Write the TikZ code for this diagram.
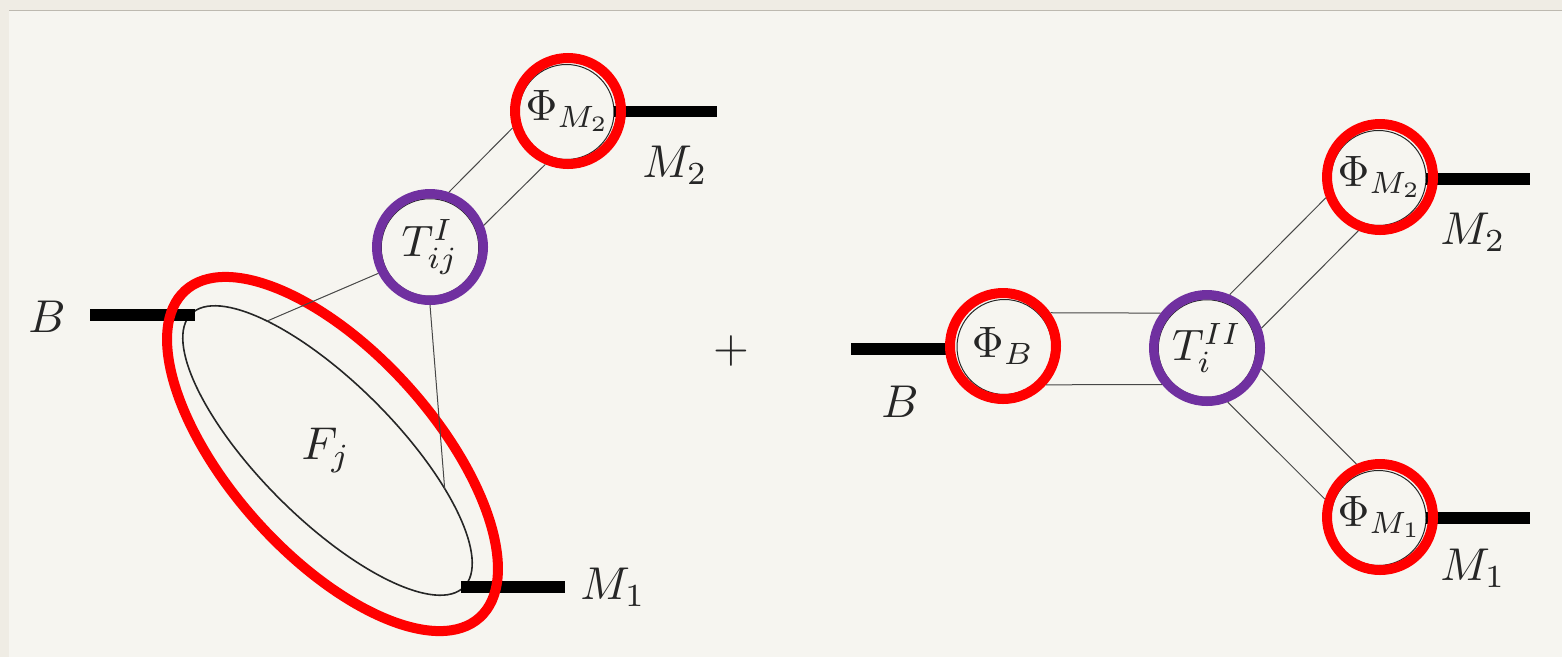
\documentclass[tikz,border=0pt]{standalone}
\usetikzlibrary{shapes.geometric}
\definecolor{bgout}{HTML}{EFECE4}
\definecolor{bgin}{HTML}{F6F5F0}
\definecolor{edgeg}{HTML}{BDB9B0}
\definecolor{ringred}{HTML}{FF0000}
\definecolor{ringpurple}{HTML}{7030A0}
\definecolor{ink}{HTML}{262626}
\newcommand{\bigmath}[1]{\scalebox{4.6}{$#1$}}
\newcommand{\ringmath}[1]{\scalebox{4.4}{$#1$}}
\begin{document}
\begin{tikzpicture}[x=1pt,y=-1pt,
  lab/.style={inner sep=0pt,text=ink},
  thinring/.style={circle,draw=ink,line width=1pt,minimum size=95pt,inner sep=0pt,outer sep=0pt},
  redring/.style={circle,draw=ringred,line width=10pt,minimum size=106pt,inner sep=0pt,text=ink},
  purplering/.style={circle,draw=ringpurple,line width=9.5pt,minimum size=106.5pt,inner sep=0pt,text=ink},
  thick leg/.style={line width=11.5pt,black,line cap=butt},
  wire/.style={line width=1pt,draw=ink!85!white}]
\useasboundingbox (0,0) rectangle (1562,657);
\fill[bgout] (0,0) rectangle (1562,657);
\fill[bgin] (9,11) rectangle (1562,657);
\draw[edgeg,line width=1pt] (9,10.5) -- (1562,10.5);

% free ends of the external legs
\coordinate (endBL) at (90,315);
\coordinate (endM2L) at (717,111.5);
\coordinate (endM1L) at (565,587);
\coordinate (endBR) at (851,349);
\coordinate (endM2R) at (1530,179);
\coordinate (endM1R) at (1530,518);

% thin inner shapes
\node[thinring] (inM2L) at (566.5,112) {};
\node[thinring,minimum size=97.5pt] (inTL) at (430,247.5) {};
\node[thinring] (inBR) at (1004.5,347) {};
\node[thinring,minimum size=97.5pt] (inTR) at (1207,348.5) {};
\node[thinring] (inM2R) at (1378.5,178) {};
\node[thinring] (inM1R) at (1378.5,518) {};
\node[ellipse,draw=ink,line width=1.6pt,minimum width=386pt,minimum height=136pt,inner sep=0pt,outer sep=0pt,rotate=-45] (Fj) at (327.5,450.5) {};

% thick legs
\draw[thick leg] (endBL) -- ([xshift=4pt]Fj.west |- endBL);
\draw[thick leg] ([xshift=-3pt]Fj.east |- endM1L) -- (endM1L);
\draw[thick leg] (inM2L.east |- endM2L) -- (endM2L);
\draw[thick leg] (endBR) -- ([xshift=-2pt]inBR.west |- endBR);
\draw[thick leg] (inM2R.east |- endM2R) -- (endM2R);
\draw[thick leg] (inM1R.east |- endM1R) -- (endM1R);

% coloured rings
\node[redring] (phiM2L) at (568,111) {\ringmath{\Phi_{M_2}}};
\node[purplering] (TI) at (430,247) {\ringmath{T^{I}_{ij}}};
\node[ellipse,draw=ringred,line width=10pt,minimum width=440pt,minimum height=203pt,inner sep=0pt,rotate=-48] (Fout) at (332.5,454) {};
\node[redring] (phiBR) at (1003,346) {\ringmath{\Phi_{B}}};
\node[purplering] (TII) at (1207,348) {\ringmath{T^{II}_{i}}};
\node[redring] (phiM2R) at (1380,177) {\ringmath{\Phi_{M_2}}};
\node[redring] (phiM1R) at (1380,517) {\ringmath{\Phi_{M_1}}};

% wires
\draw[wire] (TI.71) -- (phiM2L.197);
\draw[wire] (TI.22) -- (phiM2L.247);
\draw[wire] (TI.207) -- (Fj.160.3);
\draw[wire] (TI.270) -- (Fj.27.4);
\draw[wire] (phiBR.35) -- (TII.143);
\draw[wire] (phiBR.-42) -- (TII.219.7);
\draw[wire] (TII.67.7) -- (phiM2R.201);
\draw[wire] (TII.20.6) -- (phiM2R.248.6);
\draw[wire] (TII.-21.8) -- (phiM1R.114.4);
\draw[wire] (TII.-69.4) -- (phiM1R.162);

% labels
\node[lab] (lB) at (47,317) {\bigmath{B}};
\node[lab] (lM2) at (675,165) {\bigmath{M_2}};
\node[lab] (lM1) at (613,587) {\bigmath{M_1}};
\node[lab] (lF) at (326,450) {\bigmath{F_j}};
\node[lab] (lplus) at (731,351) {\bigmath{+}};
\node[lab] (lBr) at (900,402) {\bigmath{B}};
\node[lab] (lM2r) at (1473,232) {\bigmath{M_2}};
\node[lab] (lM1r) at (1473,568) {\bigmath{M_1}};
\end{tikzpicture}
\end{document}
